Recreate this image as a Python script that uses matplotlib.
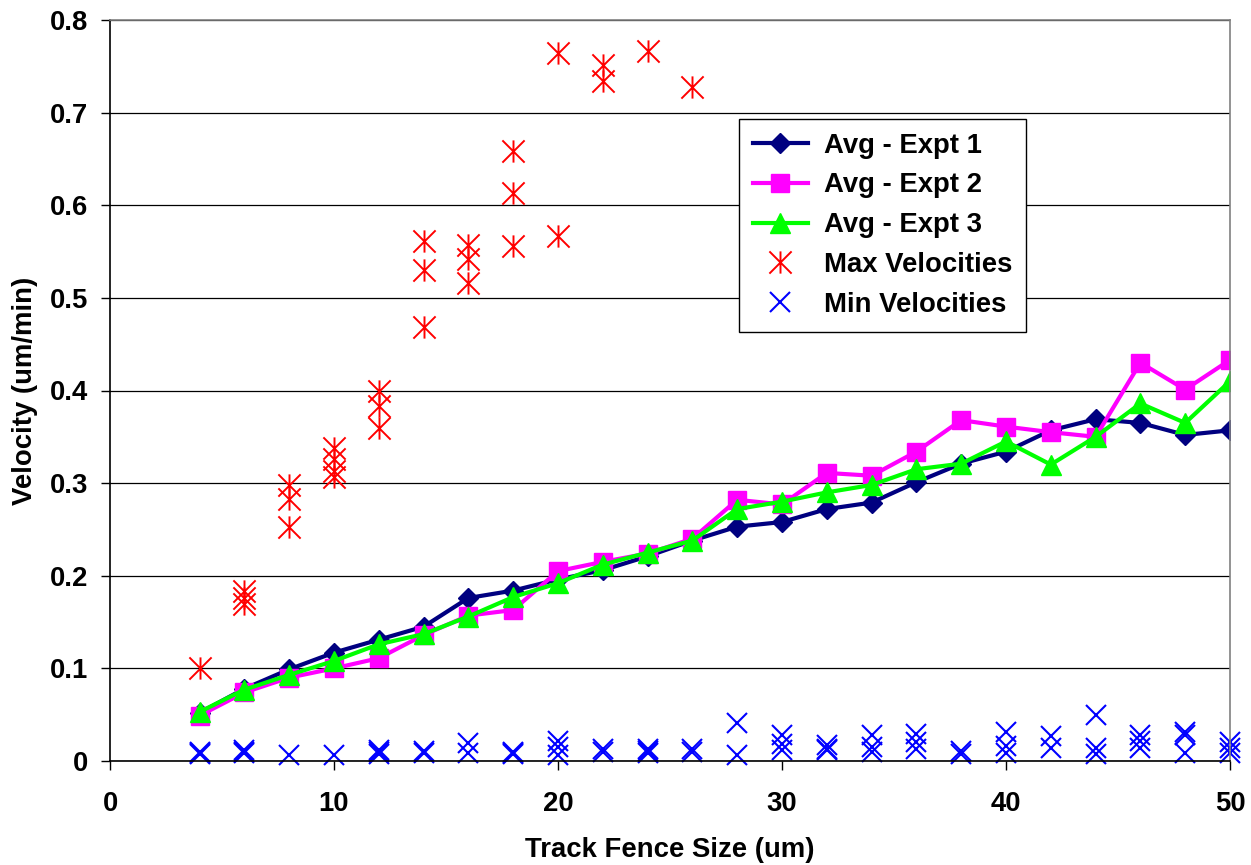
import numpy as np
import matplotlib
matplotlib.use("Agg")
import matplotlib.pyplot as plt
from matplotlib.path import Path
from matplotlib.ticker import FuncFormatter

# tamanos de la valla (um)
sizes = [4, 6, 8, 10, 12, 14, 16, 18, 20, 22, 24, 26,
         28, 30, 32, 34, 36, 38, 40, 42, 44, 46, 48, 50]

avg_expt1 = [0.052, 0.078, 0.099, 0.117, 0.131, 0.145, 0.176, 0.184, 0.196, 0.206, 0.221, 0.238,
             0.253, 0.258, 0.272, 0.279, 0.301, 0.321, 0.334, 0.357, 0.369, 0.365, 0.352, 0.357]
avg_expt2 = [0.049, 0.074, 0.090, 0.100, 0.111, 0.136, 0.157, 0.163, 0.205, 0.215, 0.224, 0.240,
             0.282, 0.277, 0.311, 0.308, 0.334, 0.368, 0.361, 0.355, 0.350, 0.430, 0.401, 0.433]
avg_expt3 = [0.053, 0.077, 0.093, 0.108, 0.126, 0.137, 0.156, 0.177, 0.192, 0.212, 0.225, 0.238,
             0.272, 0.280, 0.290, 0.298, 0.315, 0.321, 0.345, 0.320, 0.350, 0.386, 0.365, 0.410]

max_x = [4, 6, 6, 6, 8, 8, 8, 10, 10, 10, 10, 12, 12, 12, 14, 14, 14,
         16, 16, 16, 18, 18, 18, 20, 20, 22, 22, 24, 26]
max_v = [0.100, 0.184, 0.176, 0.170, 0.298, 0.283, 0.253, 0.338, 0.326, 0.313, 0.307,
         0.400, 0.383, 0.360, 0.561, 0.530, 0.469, 0.557, 0.542, 0.516,
         0.659, 0.613, 0.556, 0.764, 0.567, 0.751, 0.734, 0.767, 0.728]

min_x = [4, 4, 4, 6, 6, 6, 8, 10, 12, 12, 12, 14, 14, 16, 16, 18, 18, 18,
         20, 20, 20, 22, 22, 24, 24, 24, 26, 26, 28, 28, 30, 30, 30, 32, 32, 32,
         34, 34, 34, 36, 36, 36, 38, 38, 40, 40, 40, 42, 42, 44, 44, 44,
         46, 46, 46, 48, 48, 48, 50, 50, 50]
min_v = [0.008, 0.010, 0.009, 0.0115, 0.0086, 0.010, 0.006, 0.006, 0.0115, 0.0097, 0.008,
         0.011, 0.009, 0.019, 0.0086, 0.010, 0.008, 0.009,
         0.022, 0.015, 0.007, 0.0133, 0.0097, 0.013, 0.011, 0.0086, 0.013, 0.0097,
         0.041, 0.007, 0.028, 0.0187, 0.0115, 0.017, 0.013, 0.0115,
         0.028, 0.015, 0.0097, 0.029, 0.020, 0.0126, 0.011, 0.008,
         0.031, 0.016, 0.009, 0.027, 0.0137, 0.050, 0.0137, 0.008,
         0.028, 0.0216, 0.0137, 0.0317, 0.028, 0.009, 0.020, 0.0137, 0.009]

# marcador asterisco: linea vertical + X
asterisco = Path([(0, -1), (0, 1), (-1, -1), (1, 1), (-1, 1), (1, -1)],
                 [Path.MOVETO, Path.LINETO, Path.MOVETO, Path.LINETO, Path.MOVETO, Path.LINETO])

plt.rcParams['font.family'] = ['Liberation Sans', 'DejaVu Sans']
plt.rcParams['font.weight'] = 'bold'
FS = 19.8

fig = plt.figure(figsize=(12.51, 8.65), dpi=100)
ax = fig.add_axes([110 / 1251, 1 - 761 / 865, 1120 / 1251, 741 / 865])

ax.plot(sizes, avg_expt1, color='#000080', lw=3, marker='D', ms=10, label='Avg - Expt 1')
ax.plot(sizes, avg_expt2, color='#FF00FF', lw=3, marker='s', ms=13.5, label='Avg - Expt 2')
ax.plot(sizes, avg_expt3, color='#00FF00', lw=3, marker='^', ms=14.5, label='Avg - Expt 3')
ax.plot(max_x, max_v, ls='none', marker=asterisco, ms=16, mew=1.4, color='#FF0000',
        label='Max Velocities')
ax.plot(min_x, min_v, ls='none', marker='x', ms=15, mew=1.5, color='#0000FF',
        label='Min Velocities', clip_on=False)

ax.set_xlim(0, 50)
ax.set_ylim(0, 0.8)
ax.set_xticks(np.arange(0, 51, 10))
ax.set_yticks(np.arange(0, 0.81, 0.1))
ax.yaxis.set_major_formatter(FuncFormatter(lambda v, p: '0' if v == 0 else f'{v:.1f}'))
ax.tick_params(axis='x', direction='out', length=6.5, width=1, pad=15, labelsize=FS)
ax.tick_params(axis='y', direction='out', length=6.5, width=1, pad=9, labelsize=FS)
for t in ax.get_xticklabels() + ax.get_yticklabels():
    t.set_fontweight('bold')

ax.grid(axis='y', color='black', lw=0.9)
ax.set_axisbelow(True)
ax.spines['left'].set_color('black')
ax.spines['bottom'].set_color('black')
ax.spines['top'].set_color('#808080')
ax.spines['right'].set_color('#808080')
for s in ax.spines.values():
    s.set_linewidth(1.2)

ax.set_xlabel('Track Fence Size (um)', fontsize=FS, fontweight='bold', va='center')
ax.set_ylabel('Velocity (um/min)', fontsize=FS, fontweight='bold', va='center')
ax.xaxis.set_label_coords(0.5, (761 - 850) / 741)
ax.yaxis.set_label_coords((25 - 110) / 1120, 0.5)

leg = ax.legend(loc='upper left', bbox_to_anchor=((739 - 110) / 1120, (761 - 119) / 741),
                borderaxespad=0, frameon=True, fancybox=False, framealpha=1,
                edgecolor='black', handlelength=2.0, handletextpad=0.6, borderpad=0.5,
                labelspacing=0.5, numpoints=1, prop={'weight': 'bold', 'size': FS})
leg.get_frame().set_linewidth(1.0)

fig.savefig('out.png', dpi=100)
